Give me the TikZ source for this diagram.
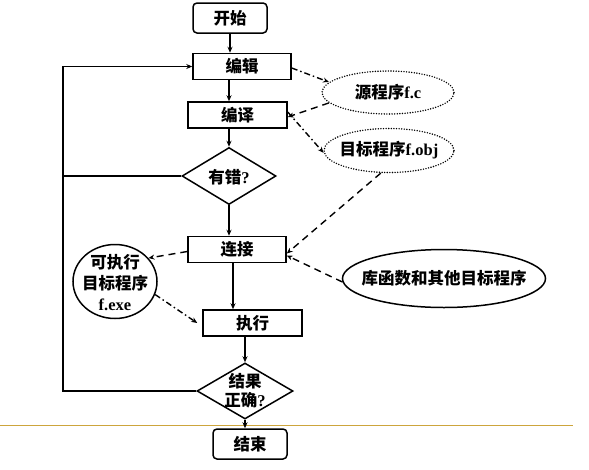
\documentclass[tikz,border=0pt]{standalone}
\usepackage{fontspec}
\setmainfont{Liberation Serif}
\newfontfamily\cjk{Noto Sans CJK SC}
\usetikzlibrary{shapes.geometric,arrows.meta}
\newcommand{\zh}[1]{{\cjk #1}}
\begin{document}
\begin{tikzpicture}[x=1pt,y=-1pt,
  every node/.style={font=\fontsize{16.5}{20}\selectfont\bfseries},
  box/.style={draw, line width=1.5pt, minimum width=98pt, minimum height=26pt, inner sep=0pt},
  term/.style={box, rounded corners=4pt, minimum width=74pt, minimum height=30pt},
  dia/.style={draw, diamond, line width=1.5pt, inner sep=0pt},
  dotell/.style={draw, ellipse, line width=1.6pt, line cap=round, dash pattern=on 0pt off 2.6pt, inner sep=0pt},
  solell/.style={draw, ellipse, line width=1.5pt, inner sep=0pt},
  flow/.style={line width=1.5pt, -{Stealth[length=6pt,width=5pt]}},
  plain/.style={line width=1.5pt},
  dsh/.style={line width=1.4pt, dash pattern=on 7pt off 5pt, -{Stealth[length=6pt,width=5pt]}},
  ddot/.style={line width=1.4pt, dash pattern=on 6pt off 3pt on 1.5pt off 3pt, -{Stealth[length=6pt,width=5pt]}}
]
\useasboundingbox (0,0) rectangle (589,469);
\fill[white] (0,0) rectangle (589,469);

% separator line
\coordinate (s1) at (0,425);
\coordinate (s2) at (573,425);
\draw[line width=1pt, color={rgb,255:red,205;green,165;blue,60}] (s1) -- (s2);

% main flow
\node[term] (start) at (230,18) {\zh{开始}};
\node[box] (bj) at (242,66.5) {\zh{编辑}};
\node[box, minimum width=99pt] (by) at (237.5,115) {\zh{编译}};
\node[dia, minimum width=94pt, minimum height=57pt] (err) at (229,176) {};
\node (errt) at (229,177) {\zh{有错}?};
\node[box] (lj) at (237,249.5) {\zh{连接}};
\node[box, minimum width=99pt] (zx) at (252.5,323) {\zh{执行}};
\node[dia, minimum width=96pt, minimum height=56pt] (ok) at (245,391) {};
\node[align=center] (okt) at (245,391) {\zh{结果}\\[-1pt]\zh{正确}?};
\node[term] (end) at (250,444) {\zh{结束}};

% side nodes (shapes, then their texts)
\node[dotell, minimum width=132pt, minimum height=43pt] (src) at (388,92.5) {};
\node (srct) at (388,92.5) {\zh{源程序}f.c};
\node[dotell, minimum width=130pt, minimum height=44pt] (obj) at (389,150.5) {};
\node (objt) at (389,150.5) {\zh{目标程序}f.obj};
\node[solell, minimum width=203pt, minimum height=58pt] (lib) at (444,278.5) {};
\node (libt) at (444,278.5) {\zh{库函数和其他目标程序}};
\node[solell, minimum width=84pt, minimum height=74pt] (exe) at (115,281.5) {};
\node[align=center, font=\fontsize{16.5}{21}\selectfont\bfseries] (exet) at (115,283) {\zh{可执行}\\\zh{目标程序}\\f.exe};

\coordinate (lft) at (63,200);

% solid connectors
\draw[flow] (start.south) -- (start.south |- bj.north);
\draw[flow] (err.north |- bj.south) -- (err.north |- by.north);
\draw[flow] (err.north |- by.south) -- (err.north);
\draw[flow] (err.south) -- (err.south |- lj.north);
\draw[flow] ([xshift=-4pt]lj.south) -- ([xshift=-4pt]lj.south |- zx.north);
\draw[flow] (ok.north |- zx.south) -- (ok.north);
\draw[flow] (ok.south) -- (ok.south |- end.north);
\draw[flow] (ok.west) -| (lft) |- (bj.west);
\draw[plain] (err.west) -- (err.west -| lft);

% dashed connectors
\draw[ddot] ([yshift=-1.5pt]bj.east) -- (src.170);
\draw[dsh] (src.190) -- ([yshift=-2pt]by.east);
\draw[ddot] ([yshift=3pt]by.east) -- (obj.182);
\draw[dsh] (obj.250) -- ([yshift=-4pt]lj.east);
\draw[dsh] (lib.182) -- ([yshift=-6pt]lj.east);
\draw[dsh] ([yshift=-2pt]lj.west) -- (exe.35);
\draw[ddot] (exe.-18) -- ([xshift=-5pt]zx.west);
\end{tikzpicture}
\end{document}
